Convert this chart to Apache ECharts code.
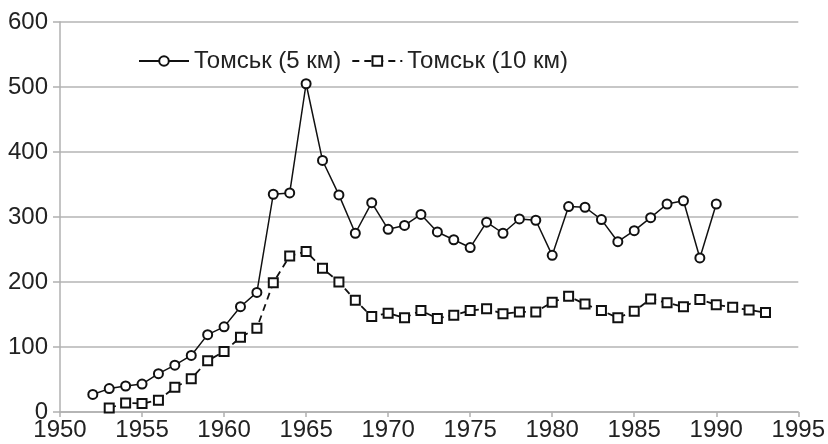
<!DOCTYPE html>
<html>
<head>
<meta charset="utf-8">
<script src="https://cdn.jsdelivr.net/npm/echarts@6/dist/echarts.min.js"></script>
<style>html,body{margin:0;padding:0;background:#fff}#c{width:828px;height:444px}</style>
</head>
<body>
<div id="c"></div>
<script>
const years5 = [1952,1953,1954,1955,1956,1957,1958,1959,1960,1961,1962,1963,1964,1965,1966,1967,1968,1969,1970,1971,1972,1973,1974,1975,1976,1977,1978,1979,1980,1981,1982,1983,1984,1985,1986,1987,1988,1989,1990];
const tomsk5 = [27,36,40,43,59,72,87,119,131,162,184,335,337,505,387,334,275,322,281,287,304,277,265,253,292,275,297,295,241,316,315,296,262,279,299,320,325,237,320];
const years10 = [1953,1954,1955,1956,1957,1958,1959,1960,1961,1962,1963,1964,1965,1966,1967,1968,1969,1970,1971,1972,1973,1974,1975,1976,1977,1978,1979,1980,1981,1982,1983,1984,1985,1986,1987,1988,1989,1990,1991,1992,1993];
const tomsk10 = [6,14,13,18,38,51,79,93,115,129,199,240,247,221,200,172,147,152,145,156,144,149,156,159,151,154,154,169,178,166,156,145,155,174,168,162,173,165,161,157,153];
const seriesNames = ['Томськ (5 км)','Томськ (10 км)'];
const xTicks = {min:1950, max:1995, interval:5};
const yTicks = {min:0, max:600, interval:100};

const font = "'Liberation Sans', Arial, sans-serif";
const chart = echarts.init(document.getElementById('c'), null, {renderer:'canvas'});
chart.setOption({
  animation:false,
  backgroundColor:'#fff',
  grid:{left:60, right:24, top:22, bottom:32, containLabel:false},
  legend:{
    left:133, top:44, itemWidth:50, itemHeight:12, itemGap:10,
    textStyle:{fontFamily:font, fontSize:24, color:'#222'},
    data:seriesNames
  },
  xAxis:{
    type:'value', min:xTicks.min, max:xTicks.max, interval:xTicks.interval,
    axisLine:{show:true, lineStyle:{color:'#b0b0b0', width:1.5}},
    axisTick:{show:true, length:5, lineStyle:{color:'#b0b0b0', width:1.5}},
    axisLabel:{fontFamily:font, fontSize:24, color:'#222', margin:6, formatter:v=>String(v)},
    splitLine:{show:false}
  },
  yAxis:{
    type:'value', min:yTicks.min, max:yTicks.max, interval:yTicks.interval,
    axisLine:{show:true, lineStyle:{color:'#b0b0b0', width:1.5}},
    axisTick:{show:true, length:7, lineStyle:{color:'#b0b0b0', width:1.5}},
    axisLabel:{fontFamily:font, fontSize:24, color:'#222', margin:12, formatter:v=>String(v)},
    splitLine:{show:true, lineStyle:{color:'#b4b4b4', width:1.5}}
  },
  series:[
    {
      name:seriesNames[0], type:'line',
      data:years5.map((y,i)=>[y,tomsk5[i]]),
      symbol:'emptyCircle', symbolSize:9,
      itemStyle:{color:'#111', borderWidth:1},
      lineStyle:{color:'#111', width:1.5}
    },
    {
      name:seriesNames[1], type:'line',
      data:years10.map((y,i)=>[y,tomsk10[i]]),
      symbol:'emptyRect', symbolSize:9,
      itemStyle:{color:'#111', borderWidth:1},
      lineStyle:{color:'#111', width:1.8, type:[7,5]}
    }
  ]
});
</script>
</body>
</html>
